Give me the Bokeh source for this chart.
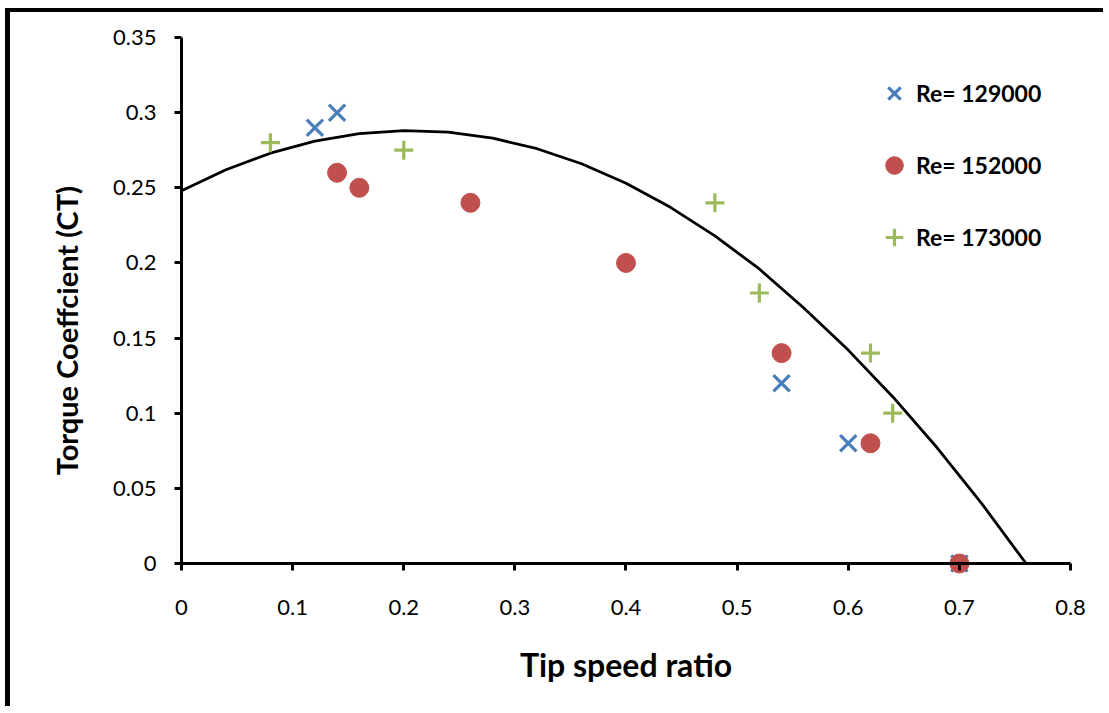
import math
from bokeh.plotting import figure
from bokeh.models import FixedTicker, Legend, LegendItem, Range1d, Label
from bokeh.embed import file_html
from bokeh.resources import INLINE

# ---- data ----
re129_x = [0.12, 0.14, 0.54, 0.60, 0.70]
re129_y = [0.29, 0.30, 0.12, 0.08, 0.00]
re152_x = [0.14, 0.16, 0.26, 0.40, 0.54, 0.62, 0.70]
re152_y = [0.26, 0.25, 0.24, 0.20, 0.14, 0.08, 0.00]
re173_x = [0.08, 0.20, 0.48, 0.52, 0.62, 0.64]
re173_y = [0.28, 0.275, 0.24, 0.18, 0.14, 0.10]
trend_x = [0.00, 0.04, 0.08, 0.12, 0.16, 0.20, 0.24, 0.28, 0.32, 0.36,
           0.40, 0.44, 0.48, 0.52, 0.56, 0.60, 0.64, 0.68, 0.72, 0.76]
trend_y = [0.248, 0.262, 0.273, 0.281, 0.286, 0.288, 0.287, 0.283, 0.276, 0.266,
           0.253, 0.237, 0.218, 0.196, 0.170, 0.142, 0.111, 0.077, 0.040, 0.000]
x_ticks = [0, 0.1, 0.2, 0.3, 0.4, 0.5, 0.6, 0.7, 0.8]
x_tick_labels = ["0", "0.1", "0.2", "0.3", "0.4", "0.5", "0.6", "0.7", "0.8"]
y_ticks = [0, 0.05, 0.1, 0.15, 0.2, 0.25, 0.3, 0.35]
y_tick_labels = ["0", "0.05", "0.1", "0.15", "0.2", "0.25", "0.3", "0.35"]
series_labels = ["Re= 129000", "Re= 152000", "Re= 173000"]
x_title = "Tip speed ratio"
y_title = "Torque Coeffcient (CT)"

BLUE = "#4A7EBB"
RED = "#C0504D"
GREEN = "#9BBB59"

# The plot frame fills the whole canvas; axes sit at data 0 (fixed_location)
W, H = 1098, 698
p = figure(width=W, height=H, output_backend="svg", toolbar_location=None,
           x_range=Range1d(-0.15388, 0.8342), y_range=Range1d(-0.09781, 0.366635),
           min_border_left=0, min_border_right=0, min_border_top=0,
           min_border_bottom=0)
p.styles = {"border-left": "5px solid black", "border-top": "4px solid black",
            "margin-left": "5px", "margin-top": "8px"}
p.outline_line_color = None
p.xgrid.visible = False
p.ygrid.visible = False
p.background_fill_color = "white"
p.border_fill_color = "white"

# axes
xa = p.xaxis[0]
ya = p.yaxis[0]
xa.fixed_location = 0
ya.fixed_location = 0
xa.bounds = (0, 0.8)
ya.bounds = (0, 0.35)
xa.ticker = FixedTicker(ticks=x_ticks)
ya.ticker = FixedTicker(ticks=y_ticks)
xa.major_label_overrides = {t: l for t, l in zip(x_ticks, x_tick_labels)}
ya.major_label_overrides = {t: l for t, l in zip(y_ticks, y_tick_labels)}
for ax in (xa, ya):
    ax.axis_line_width = 3
    ax.axis_line_color = "black"
    ax.major_tick_line_width = 3
    ax.major_tick_line_color = "black"
    ax.major_tick_out = 7
    ax.major_tick_in = 0
    ax.minor_tick_line_color = None
    ax.major_label_text_font = "Lato"
    ax.major_label_text_font_size = "22px"
    ax.major_label_text_color = "black"
xa.major_label_standoff = 29
ya.major_label_standoff = 18

# axis titles
p.add_layout(Label(x=0.4, y=-0.067, text=x_title, text_font="Lato",
                   text_font_style="bold", text_font_size="32px",
                   text_align="center", text_baseline="middle",
                   text_color="black"))
p.add_layout(Label(x=-0.1035, y=0.155, text=y_title, text_font="Lato",
                   text_font_style="bold", text_font_size="29px",
                   text_align="center", text_baseline="middle",
                   angle=math.pi / 2, text_color="black"))

# trend line
p.line(trend_x, trend_y, line_color="black", line_width=2.8)

# series
r1 = p.scatter(re129_x, re129_y, marker="x", size=23, line_color=BLUE, line_width=3.2)
r2 = p.scatter(re152_x, re152_y, marker="circle", size=19, fill_color=RED, line_color=RED)
r3 = p.scatter(re173_x, re173_y, marker="cross", size=19, line_color=GREEN, line_width=3.2)

legend = Legend(items=[LegendItem(label=series_labels[0], renderers=[r1]),
                       LegendItem(label=series_labels[1], renderers=[r2]),
                       LegendItem(label=series_labels[2], renderers=[r3])],
                location=(862, 451), orientation="vertical",
                glyph_width=44, glyph_height=44, label_standoff=0,
                spacing=28, padding=0, margin=0,
                border_line_color=None, background_fill_alpha=0,
                label_text_font="Lato", label_text_font_style="bold",
                label_text_font_size="23px", label_text_color="black",
                label_height=44)
p.add_layout(legend, "center")

open("out.html", "w").write(file_html(p, INLINE))
